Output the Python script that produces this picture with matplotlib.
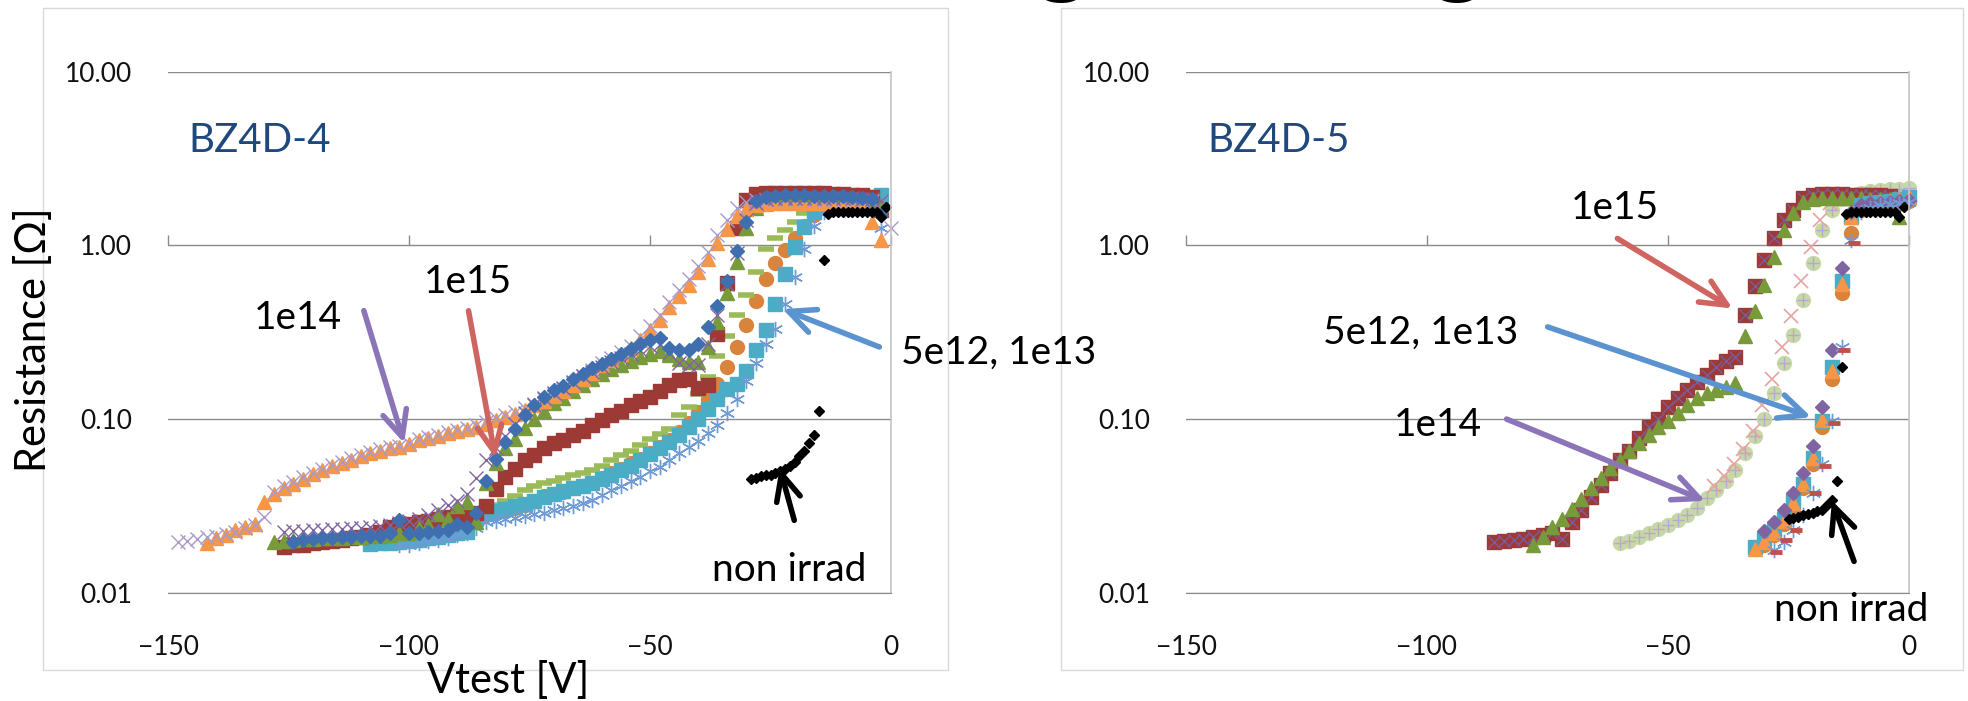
import numpy as np
import matplotlib
matplotlib.use('Agg')
import matplotlib.pyplot as plt
from matplotlib.patches import Rectangle, FancyArrowPatch
from matplotlib.ticker import FuncFormatter, NullLocator

W, H = 1968, 701
FONT = ['Lato', 'DejaVu Sans']
plt.rcParams['font.family'] = FONT

# ---------------- BZ4D-4 (left) : resistance [Ohm], sweep step 2 V from start voltage
l_or_tri_v0 = -142
l_or_tri = [0.0193, 0.0206, 0.0215, 0.023, 0.024, 0.025, 0.0335, 0.037, 0.040, 0.0425,
            0.0455, 0.0485, 0.051, 0.0535, 0.056, 0.0585, 0.061, 0.064, 0.066, 0.068,
            0.0695, 0.072, 0.0755, 0.078, 0.0805, 0.083, 0.0855, 0.088, 0.090, 0.094,
            0.099, 0.1025, 0.107, 0.113, 0.12, 0.128, 0.136, 0.145, 0.157, 0.17,
            0.185, 0.205, 0.22, 0.236, 0.255, 0.285, 0.326, 0.37, 0.44, 0.51,
            0.59, 0.70, 0.83, 1.03, 1.24, 1.48, 1.62, 1.70, 1.73, 1.75,
            1.76, 1.76, 1.76, 1.75, 1.75, 1.74, 1.73, 1.72, 1.70, 1.37, 1.07]

l_lav_x_v0 = -148
l_lav_x = [0.0197, 0.0200, 0.0205, 0.021, 0.0212, 0.0218, 0.0225, 0.0235, 0.0245, 0.0275,
           0.038, 0.041, 0.0435, 0.0465, 0.049, 0.052, 0.0545, 0.057, 0.0595, 0.062,
           0.065, 0.067, 0.069, 0.0705, 0.073, 0.0765, 0.079, 0.0815, 0.084, 0.0865,
           0.089, 0.092, 0.096, 0.101, 0.105, 0.11, 0.116, 0.123, 0.131, 0.14,
           0.15, 0.162, 0.176, 0.192, 0.21, 0.226, 0.243, 0.265, 0.3, 0.345,
           0.4, 0.47, 0.55, 0.64, 0.76, 0.92, 1.15, 1.4, 1.65, 1.78,
           1.82, 1.83, 1.84, 1.84, 1.84, 1.84, 1.83, 1.83, 1.82, 1.82,
           1.81, 1.8, 1.8, 1.79, 1.25]

l_blue_dia_v0 = -124
l_blue_dia = [0.0197, 0.0202, 0.0205, 0.0207, 0.0208, 0.021, 0.0211, 0.0212, 0.0213, 0.0214,
              0.022, 0.0263, 0.022, 0.0222, 0.0225, 0.0228, 0.023, 0.025, 0.024, 0.029,
              0.044, 0.059, 0.074, 0.088, 0.105, 0.12, 0.135, 0.147, 0.156, 0.17,
              0.183, 0.196, 0.209, 0.222, 0.237, 0.252, 0.27, 0.284, 0.292, 0.256,
              0.25, 0.25, 0.27, 0.34, 0.45, 0.62, 0.93, 1.36, 1.8, 1.9,
              1.93, 1.94, 1.94, 1.94, 1.93, 1.93, 1.92, 1.92, 1.9, 1.88, 1.85, 1.5]

l_green_tri_v0 = -128
l_green_tri = [0.0197, 0.020, 0.0202, 0.0204, 0.0205, 0.0206, 0.0207, 0.0208, 0.0209, 0.021,
               0.0212, 0.0214, 0.0216, 0.022, 0.0222, 0.0235, 0.0245, 0.0285, 0.0265, 0.0315,
               0.0335, 0.0256, 0.043, 0.056, 0.068, 0.077, 0.089, 0.1, 0.112, 0.124,
               0.133, 0.145, 0.158, 0.17, 0.182, 0.194, 0.204, 0.216, 0.227, 0.237,
               0.248, 0.235, 0.222, 0.213, 0.213, 0.26, 0.36, 0.53, 0.8, 1.25,
               1.65, 1.8, 1.85, 1.86, 1.86, 1.86, 1.86, 1.85, 1.85, 1.84, 1.83, 1.8, 1.78, 1.7]

l_purple_x_v0 = -126
l_purple_x = [0.0224, 0.0226, 0.0228, 0.023, 0.0231, 0.0232, 0.0234, 0.0236, 0.0238, 0.024,
              0.0243, 0.0247, 0.0252, 0.0258, 0.0265, 0.028, 0.030, 0.032, 0.034, 0.037,
              0.046, 0.058, 0.068, 0.08, 0.094, 0.108, 0.12, 0.132, 0.142, 0.152,
              0.164, 0.176, 0.188, 0.2, 0.212, 0.224, 0.237, 0.25, 0.262, 0.27,
              0.24, 0.21, 0.205, 0.205, 0.27, 0.4, 0.6, 0.9, 1.4, 1.75,
              1.85, 1.88, 1.88, 1.88, 1.88, 1.88, 1.87, 1.87, 1.86, 1.86, 1.85, 1.84, 1.8]

l_red_sq_v0 = -126
l_red_sq = [0.0185, 0.0188, 0.019, 0.0193, 0.0197, 0.020, 0.0203, 0.0206, 0.021, 0.0216,
            0.0225, 0.0239, 0.0245, 0.025, 0.0255, 0.026, 0.0268, 0.0275, 0.0278, 0.0281,
            0.029, 0.0318, 0.0394, 0.0466, 0.052, 0.058, 0.0622, 0.0685, 0.0725, 0.0763,
            0.0815, 0.0857, 0.0926, 0.099, 0.106, 0.112, 0.12, 0.128, 0.134, 0.145,
            0.157, 0.168, 0.171, 0.152, 0.157, 0.31, 0.61, 1.25, 1.82, 1.97,
            2.0, 2.0, 2.0, 2.0, 2.0, 2.0, 1.99, 1.98, 1.97, 1.96, 1.94, 1.9, 1.6]

l_or_circ_v0 = -84
l_or_circ = [0.028, 0.029, 0.030, 0.031, 0.032, 0.034, 0.036, 0.037, 0.038, 0.040,
             0.041, 0.043, 0.046, 0.049, 0.052, 0.0556, 0.059, 0.064, 0.069, 0.076,
             0.084, 0.095, 0.11, 0.13, 0.16, 0.2, 0.26, 0.35, 0.48, 0.64,
             0.79, 0.94, 1.1, 1.3, 1.5, 1.65, 1.7, 1.72, 1.72, 1.72, 1.72, 1.72]

l_cyan_sq_v0 = -108
l_cyan_sq = [0.0192, 0.0193, 0.0195, 0.0197, 0.020, 0.0203, 0.0207, 0.021, 0.0215, 0.022,
             0.0225, 0.0265, 0.0285, 0.0295, 0.0305, 0.0315, 0.0325, 0.034, 0.0355, 0.037,
             0.0385, 0.040, 0.0415, 0.043, 0.045, 0.048, 0.051, 0.054, 0.058, 0.063,
             0.068, 0.074, 0.081, 0.09, 0.1, 0.115, 0.13, 0.15, 0.16, 0.19,
             0.25, 0.325, 0.46, 0.68, 0.98, 1.28, 1.55, 1.7, 1.75, 1.8, 1.8, 1.85, 1.9, 1.95]

l_green_dash_v0 = -84
l_green_dash = [0.031, 0.032, 0.034, 0.036, 0.039, 0.041, 0.043, 0.044, 0.046, 0.048,
                0.049, 0.051, 0.054, 0.058, 0.062, 0.066, 0.071, 0.077, 0.082, 0.088,
                0.105, 0.118, 0.14, 0.175, 0.23, 0.3, 0.4, 0.52, 0.7, 0.95,
                1.1, 1.22, 1.37, 1.53, 1.65, 1.72, 1.75, 1.75, 1.75, 1.75, 1.75, 1.75]

l_aster_v0 = -102
l_aster = [0.0188, 0.019, 0.0195, 0.0198, 0.0203, 0.0208, 0.0215, 0.0222, 0.0235, 0.0255,
           0.026, 0.0265, 0.027, 0.0276, 0.0283, 0.029, 0.030, 0.031, 0.0318, 0.033,
           0.0345, 0.0365, 0.039, 0.0415, 0.044, 0.0466, 0.05, 0.053, 0.058, 0.0635,
           0.069, 0.075, 0.083, 0.092, 0.108, 0.13, 0.165, 0.21, 0.27, 0.33,
           0.46, 0.66, 0.95, 1.3, 1.55, 1.65, 1.7, 1.7, 1.7, 1.7, 1.25]

# non irradiated, 1 V steps
l_black_v0 = -29
l_black = [0.045, 0.046, 0.047, 0.0475, 0.048, 0.049, 0.05, 0.052, 0.054, 0.057, 0.061, 0.066, 0.073,
           0.081, 0.112, 0.82,
           1.52, 1.55, 1.56, 1.56, 1.56, 1.55, 1.55, 1.56, 1.56, 1.55, 1.55, 1.46, 1.67]

# ---------------- BZ4D-5 (right)
r_red_sq_v0 = -86
r_red_sq = [0.0197, 0.0199, 0.0202, 0.0205, 0.021, 0.0215, 0.0222, 0.0205, 0.0257, 0.0299,
            0.0355, 0.0418, 0.0487, 0.058, 0.066, 0.078, 0.09, 0.1, 0.118, 0.132,
            0.147, 0.163, 0.18, 0.2, 0.215, 0.229, 0.4, 0.58, 0.82, 1.1,
            1.4, 1.6, 1.87, 1.95, 1.97, 1.97, 1.97, 1.96, 1.96, 1.95, 1.95, 1.93, 1.75]

r_green_tri_v0 = -78
r_green_tri = [0.0188, 0.0211, 0.0239, 0.0265, 0.0305, 0.0349, 0.04, 0.0458, 0.0525, 0.058,
               0.0652, 0.0726, 0.081, 0.09, 0.097, 0.108, 0.12, 0.132, 0.141, 0.147,
               0.154, 0.161, 0.3, 0.42, 0.59, 0.86, 1.22, 1.53, 1.78, 1.85,
               1.87, 1.87, 1.87, 1.86, 1.86, 1.85, 1.85, 1.84, 1.45]

r_pale_circ_v0 = -60
r_pale_circ = [0.0193, 0.020, 0.0211, 0.022, 0.0232, 0.0245, 0.0262, 0.0282, 0.031, 0.035,
               0.039, 0.044, 0.051, 0.0637, 0.08, 0.1, 0.141, 0.21, 0.306, 0.483,
               0.79, 1.22, 1.6, 1.85, 1.95, 2.0, 2.05, 2.08, 2.1, 2.12, 2.15]

r_pink_x_v0 = -40.4
r_pink_x = [0.041, 0.047, 0.055, 0.067, 0.086, 0.12, 0.17, 0.26, 0.39, 0.62, 0.98, 1.4, 1.75, 1.95]

r_pur_dia_v0 = -30
r_pur_dia = [0.0226, 0.0257, 0.0299, 0.0375, 0.0487, 0.07, 0.118, 0.25, 0.74,
             1.55, 1.7, 1.75, 1.75, 1.78, 1.8, 1.82]
r_cyan_sq_v0 = -32
r_cyan_sq = [0.0184, 0.0205, 0.0229, 0.0265, 0.0338, 0.0426, 0.0594, 0.098, 0.2, 0.62,
             1.46, 1.7, 1.75, 1.78, 1.8, 1.85, 1.9]
r_or_tri_v0 = -32
r_or_tri = [0.018, 0.0197, 0.0222, 0.026, 0.033, 0.0426, 0.06, 0.099, 0.19, 0.6,
            1.46, 1.7, 1.75, 1.78, 1.8, 1.85, 1.9]
r_or_circ_v0 = -30
r_or_circ = [0.019, 0.0215, 0.025, 0.031, 0.04, 0.055, 0.09, 0.17, 0.53,
             1.17, 1.6, 1.7, 1.72, 1.75, 1.78, 1.8]
r_aster_v0 = -28
r_aster = [0.0177, 0.0197, 0.0229, 0.0281, 0.0375, 0.0555, 0.098, 0.26, 1.07,
           1.55, 1.65, 1.7, 1.72, 1.75, 1.78]
r_red_dash_v0 = -27.5
r_red_dash = [0.0173, 0.0202, 0.0229, 0.0289, 0.0375, 0.054, 0.095, 0.25, 1.03]

r_black_v0 = -25
r_black = [0.0265, 0.027, 0.0275, 0.028, 0.0285, 0.029, 0.0295, 0.030, 0.032, 0.0345, 0.044, 0.2,
           1.52, 1.55, 1.56, 1.56, 1.56, 1.55, 1.55, 1.56, 1.56, 1.55, 1.55, 1.46, 1.67]

x_ticks = [-150, -100, -50, 0]
y_ticks = [0.01, 0.1, 1, 10]

fig = plt.figure(figsize=(W / 100, H / 100), dpi=100)

# chart area borders
for x0, y0, x1, y1 in [(43, 8, 948, 670), (1061, 8, 1963, 670)]:
    fig.add_artist(Rectangle((x0 / W, 1 - y1 / H), (x1 - x0) / W, (y1 - y0) / H,
                             transform=fig.transFigure, fill=False, ec='#D9D9D9', lw=1))

axL = fig.add_axes([168 / W, 1 - 593 / H, 723 / W, 521.5 / H])
axR = fig.add_axes([1186 / W, 1 - 593 / H, 723 / W, 521.5 / H])


def style(ax):
    ax.set_yscale('log')
    ax.set_xlim(-150, 0)
    ax.set_ylim(0.01, 10)
    ax.set_yticks(y_ticks)
    ax.yaxis.set_minor_locator(NullLocator())
    ax.yaxis.set_major_formatter(FuncFormatter(lambda v, p: '%.2f' % v))
    ax.set_xticks(x_ticks)
    ax.tick_params(axis='both', length=0, labelsize=19, labelcolor='#111111')
    ax.tick_params(axis='x', pad=30)
    ax.tick_params(axis='y', pad=26)
    ax.grid(axis='y', color='#8A8A8A', lw=1.0)
    ax.set_axisbelow(True)
    for s in ['top', 'left']:
        ax.spines[s].set_visible(False)
    ax.spines['bottom'].set_color('#8A8A8A')
    ax.spines['right'].set_color('#C4C4C4')
    ax.spines['right'].set_linewidth(1.2)
    # x axis crosses at 1.00 (tick marks only)
    sec = ax.secondary_xaxis(2 / 3)
    sec.set_xticks(x_ticks)
    sec.tick_params(axis='x', direction='out', length=7, width=1, color='#8A8A8A',
                    labeltop=False, labelbottom=False)
    for s in sec.spines.values():
        s.set_visible(False)


def pts(ax, v0, vals, step=2.0, **kw):
    v = v0 + step * np.arange(len(vals))
    ax.plot(v, vals, ls='none', clip_on=False, **kw)


style(axL)
style(axR)

STAR = (6, 2, 0)

# left panel
pts(axL, l_or_circ_v0, l_or_circ, marker='o', ms=10, mfc='#D9843C', mec='#D9843C')
pts(axL, l_green_dash_v0, l_green_dash, marker='_', ms=11, mew=4, mec='#9BBB59')
pts(axL, l_cyan_sq_v0, l_cyan_sq, marker='s', ms=9.5, mfc='#4BACC6', mec='#4BACC6')
pts(axL, l_aster_v0, l_aster, marker=STAR, ms=11, mew=1, mec='#6F9BD4')
pts(axL, l_red_sq_v0, l_red_sq, marker='s', ms=9.5, mfc='#9E3A36', mec='#9E3A36')
pts(axL, l_green_tri_v0, l_green_tri, marker='^', ms=10, mfc='#789A3A', mec='#789A3A')
pts(axL, l_or_tri_v0, l_or_tri, marker='^', ms=10, mfc='#F79646', mec='#F79646')
pts(axL, l_lav_x_v0, l_lav_x, marker='x', ms=10, mew=1, mec='#A99ACA')
pts(axL, l_purple_x_v0, l_purple_x, marker='x', ms=10, mew=1, mec='#8064A2')
pts(axL, l_blue_dia_v0, l_blue_dia, marker='D', ms=7.5, mfc='#3F6FAE', mec='#3F6FAE')
pts(axL, l_black_v0, l_black, step=1.0, marker='D', ms=5, mfc='black', mec='black')

# right panel
pts(axR, r_pale_circ_v0, r_pale_circ, marker='o', ms=10, mfc='#C6D8A6', mec='#C6D8A6')
pts(axR, r_pale_circ_v0, r_pale_circ, marker='+', ms=9, mew=1, mec='#B7A7D1')
pts(axR, r_pink_x_v0, r_pink_x, marker='x', ms=10, mew=1.2, mec='#E5A3A1')
pts(axR, r_red_sq_v0, r_red_sq, marker='s', ms=9.5, mfc='#9E3A36', mec='#9E3A36')
pts(axR, r_red_sq_v0, r_red_sq, marker='x', ms=9, mew=1, mec='#7A5C9E')
pts(axR, r_green_tri_v0, r_green_tri, marker='^', ms=10, mfc='#789A3A', mec='#789A3A')
pts(axR, r_or_circ_v0, r_or_circ, marker='o', ms=10, mfc='#D9843C', mec='#D9843C')
pts(axR, r_cyan_sq_v0, r_cyan_sq, marker='s', ms=9.5, mfc='#4BACC6', mec='#4BACC6')
pts(axR, r_or_tri_v0, r_or_tri, marker='^', ms=10, mfc='#F79646', mec='#F79646')
pts(axR, r_pur_dia_v0, r_pur_dia, marker='D', ms=7, mfc='#8064A2', mec='#8064A2')
pts(axR, r_aster_v0, r_aster, marker=STAR, ms=11, mew=1, mec='#6F9BD4')
pts(axR, r_red_dash_v0, r_red_dash, marker='_', ms=8, mew=3.5, mec='#C0504D')
pts(axR, r_black_v0, r_black, step=1.0, marker='D', ms=5, mfc='black', mec='black')


def ftxt(x, y, s, **kw):
    fig.text(x / W, 1 - y / H, s, **kw)


def arrow(x0, y0, x1, y1, color):
    fig.add_artist(FancyArrowPatch((x0 / W, 1 - y0 / H), (x1 / W, 1 - y1 / H),
                                   transform=fig.transFigure,
                                   arrowstyle='->,head_length=0.75,head_width=0.35',
                                   mutation_scale=25, lw=4, color=color,
                                   capstyle='round', joinstyle='round'))


# axis titles
ftxt(34, 340, 'Resistance [Ω]', rotation=90, ha='center', va='center', fontsize=30)
ftxt(508, 693, 'Vtest [V]', ha='center', va='baseline', fontsize=30)

# sample names
ftxt(188, 152, 'BZ4D-4', color='#1F497D', fontsize=29, va='baseline')
ftxt(1207, 152, 'BZ4D-5', color='#1F497D', fontsize=29, va='baseline')

# labels
ftxt(254, 329, '1e14', fontsize=28, va='baseline')
ftxt(424, 293, '1e15', fontsize=28, va='baseline')
ftxt(901, 364, '5e12, 1e13', fontsize=28, va='baseline')
ftxt(712, 581, 'non irrad', fontsize=28, va='baseline')
ftxt(1571, 219, '1e15', fontsize=28, va='baseline')
ftxt(1323, 344, '5e12, 1e13', fontsize=28, va='baseline')
ftxt(1394, 436, '1e14', fontsize=28, va='baseline')
ftxt(1774, 621, 'non irrad', fontsize=28, va='baseline')

PURPLE, RED, BLUE = '#8B74B8', '#CF6460', '#5B93D1'
arrow(363, 308, 405, 446, PURPLE)
arrow(468, 308, 496, 461, RED)
arrow(882, 348, 780, 308, BLUE)
arrow(795, 523, 779, 465, 'black')
arrow(1615, 237, 1735, 310, RED)
arrow(1545, 326, 1814, 418, BLUE)
arrow(1504, 418, 1708, 502, PURPLE)
arrow(1855, 564, 1831, 498, 'black')

# bottom tips of the slide title that is cut off above the charts
ftxt(1062, -16, 'g', ha='center', va='baseline', fontsize=75, fontweight='bold')
ftxt(1458, -16, 'g', ha='center', va='baseline', fontsize=75, fontweight='bold')

fig.savefig('out.png', dpi=100)
